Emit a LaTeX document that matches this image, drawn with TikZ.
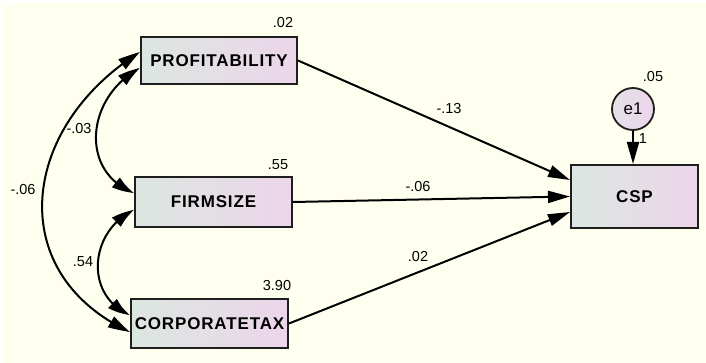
\documentclass[tikz,border=0pt]{standalone}
\usepackage{fontspec}
\setmainfont{Liberation Sans}
\newfontfamily\varfont[LetterSpace=5]{Liberation Sans}
\usetikzlibrary{arrows.meta,bending}
\definecolor{bgcream}{RGB}{255,255,240}
\definecolor{boxleft}{RGB}{220,230,224}
\definecolor{boxright}{RGB}{236,214,234}
\definecolor{errleft}{RGB}{228,224,232}
\definecolor{boxline}{RGB}{30,30,30}

\begin{document}
\begin{tikzpicture}[x=1pt,y=-1pt,
  var/.style={draw=boxline,line width=2pt,left color=boxleft,right color=boxright,
    font=\varfont\fontsize{17}{19}\selectfont\bfseries,inner sep=0pt},
  err/.style={circle,draw=boxline,line width=1.8pt,left color=errleft,right color=boxright,
    minimum size=42pt,inner sep=0pt,font=\fontsize{17}{19}\selectfont},
  num/.style={font=\fontsize{14.5}{16}\selectfont,inner sep=0pt},
  regr/.style={line width=2pt,-{Triangle[length=22pt,width=12pt]}},
  cov/.style={line width=2pt,{Triangle[length=22pt,width=12pt,bend]}-{Triangle[length=22pt,width=12pt,bend]}}]
  \useasboundingbox (0,0) rectangle (706,363);
  \fill[bgcream] (2,3) rectangle (706,363);

  \node[var,minimum width=156pt,minimum height=47pt] (prof) at (219,60.5) {PROFITABILITY};
  \node[var,minimum width=157pt,minimum height=50pt] (firm) at (213.5,202) {FIRMSIZE};
  \node[var,minimum width=157pt,minimum height=49pt] (corp) at (209.5,323.5) {CORPORATETAX};
  \node[var,minimum width=127pt,minimum height=63pt] (csp) at (634.5,196.5) {CSP};
  \node[err] (e1) at (633,109) {e1};

  \draw[regr] (prof.east) -- ([yshift=16.5pt]csp.west);
  \draw[regr] (firm.east) -- (csp.west);
  \draw[regr] (corp.east) -- ([yshift=-15.5pt]csp.west);
  \draw[regr] (e1.south) -- (e1.south |- csp.north);

  \draw[cov] ([yshift=8.5pt]prof.west) .. controls +(-120,75) and +(-127,-59) .. ([yshift=-8.5pt]corp.west);
  \draw[cov] ([yshift=-7.5pt]prof.west) .. controls +(-53,28) and +(-56,-22) .. ([yshift=9pt]firm.west);
  \draw[cov] ([yshift=-8pt]firm.west) .. controls +(-45,21) and +(-46,-19) .. ([yshift=8.5pt]corp.west);

  \node[num] (vprof) at (283,23) {.02};
  \node[num] (vfirm) at (278,165) {.55};
  \node[num] (vcorp) at (277,286) {3.90};
  \node[num] (ve1) at (653,77) {.05};
  \node[num] (we1) at (643,139) {1};
  \node[num] (wprof) at (449,109) {-.13};
  \node[num] (wfirm) at (418,187) {-.06};
  \node[num] (wcorp) at (418,257) {.02};
  \node[num] (cpf) at (79,129) {-.03};
  \node[num] (cpc) at (23,190) {-.06};
  \node[num] (cfc) at (83,262) {.54};
\end{tikzpicture}
\end{document}
